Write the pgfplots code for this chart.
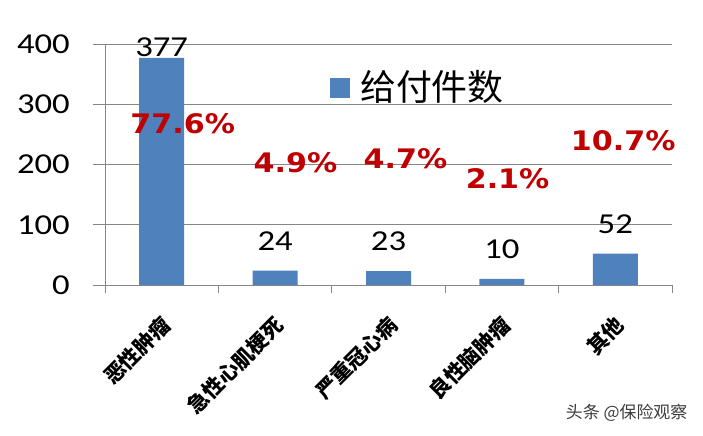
\documentclass[border=0pt]{standalone}
\usepackage{fontspec}
\usepackage{pgfplots}
\pgfplotsset{compat=1.18}
\setmainfont{Carlito}
\newfontfamily\numfont{Carlito}[FakeStretch=1.2]
\newfontfamily\pctfont{DejaVu Sans}[FakeStretch=1.12]
\newfontfamily\cjk{Noto Sans CJK SC}
\definecolor{barblue}{HTML}{4F81BD}
\definecolor{pctred}{HTML}{C00000}
\definecolor{gridgray}{HTML}{868686}
\definecolor{wmgray}{HTML}{3C3C3C}
\begin{document}
\begin{tikzpicture}
\path[use as bounding box] (0,0) rectangle (703bp,436bp);
\begin{axis}[
  at={(105bp,151bp)}, anchor=south west,
  scale only axis, width=567bp, height=241bp,
  xmin=-0.5, xmax=4.5, ymin=0, ymax=400,
  clip=false,
  axis lines*=left,
  axis line style={gridgray, line width=0.8bp},
  /pgf/number format/assume math mode=true,
  ytick={0,100,200,300,400},
  ymajorgrids,
  major grid style={gridgray, line width=0.8bp},
  tick align=outside,
  major tick length=12bp,
  ytick style={gridgray, line width=0.8bp},
  yticklabel style={font=\numfont\fontsize{29}{29}\selectfont, anchor=east, inner sep=0pt, xshift=-23bp},
  xtick={0,1,2,3,4},
  xtick style={draw=none},
  xticklabels={恶性肿瘤,急性心肌梗死,严重冠心病,良性脑肿瘤,其他},
  xticklabel style={font=\cjk\bfseries\fontsize{21}{21}\selectfont, xshift=5bp, yshift=-24bp, rotate=45, anchor=east, inner sep=0pt},
  extra x ticks={-0.5,0.5,1.5,2.5,3.5,4.5},
  extra x tick labels={},
  extra x tick style={major tick length=8bp, xtick style={draw=gridgray, line width=0.8bp}, xmajorgrids=false},
  legend style={at={(0.552,0.826)}, anchor=center, draw=none, fill=none, inner sep=0pt,
    font=\cjk\fontsize{36}{38}\selectfont},
  legend image code/.code={\fill[barblue] (0bp,-12bp) rectangle (20bp,8bp); \path (28bp,0bp);},
]
\addplot[ybar, bar width=45bp, fill=barblue, draw=none]
  coordinates {(0,377) (1,24) (2,23) (3,10) (4,52)};
\addlegendentry{给付件数}
\addplot[only marks, mark=none, forget plot, point meta=explicit symbolic,
  nodes near coords, nodes near coords style={anchor=center, inner sep=0pt, text=black, font=\numfont\fontsize{29}{29}\selectfont}]
  coordinates {(0,394)[377] (1,73)[24] (2,73)[23] (3,60)[10] (4,101)[52]};
\addplot[only marks, mark=none, forget plot, point meta=explicit symbolic,
  nodes near coords, nodes near coords style={anchor=center, inner sep=0pt, text=pctred, font=\pctfont\bfseries\fontsize{27}{27}\selectfont}]
  coordinates {(0.185,268)[77.6\%] (1.18,203)[4.9\%] (2.15,209)[4.7\%] (3.05,177)[2.1\%] (4.07,239)[10.7\%]};
\node[font=\cjk\fontsize{17}{17}\selectfont, text=wmgray] at (rel axis cs:0.92,-0.531) {头条 @保险观察};
\end{axis}
\end{tikzpicture}
\end{document}
